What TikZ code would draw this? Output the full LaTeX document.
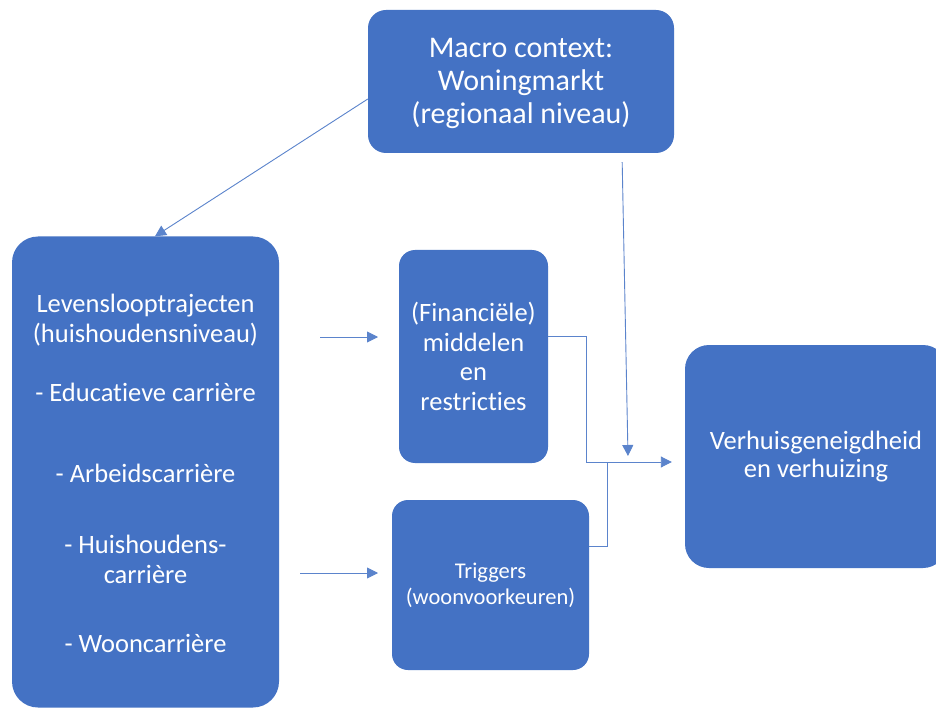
\documentclass[tikz,border=0pt]{standalone}
\usepackage{fontspec}
\setmainfont{Carlito}[Ligatures=NoCommon]
\usetikzlibrary{arrows.meta,positioning,calc}
\definecolor{officeblue}{HTML}{4472C4}
\definecolor{linkblue}{HTML}{5B84CC}

\tikzset{
  box/.style={rectangle,rounded corners=#1,fill=officeblue,draw=none,text=white,align=center,inner sep=0pt},
  box/.default=20pt,
  link/.style={draw=linkblue,line width=0.9pt,-{Triangle[length=11pt,width=11pt]}},
  plainlink/.style={draw=linkblue,line width=0.9pt}
}

\begin{document}
\begin{tikzpicture}[x=1pt,y=-1pt]
  \useasboundingbox[fill=white] (0,0) rectangle (936,708);

  \node[box=18pt,minimum width=306pt,minimum height=143pt,font=\fontsize{30}{33}\selectfont] (macro) at (521,81.5) {\strut Macro context:\\Woningmarkt\\(regionaal niveau)};
  \node[box=26pt,minimum width=267pt,minimum height=471pt,font=\fontsize{26.5}{30}\selectfont] (life) at (145.5,472) {\strut Levenslooptrajecten\\(huishoudensniveau)\\[29pt]- Educatieve carrière\\[51pt]- Arbeidscarrière\\[41pt]- Huishoudens-\\carrière\\[39pt]- Wooncarrière};
  \node[box=16pt,minimum width=149pt,minimum height=213pt,font=\fontsize{26.5}{29.5}\selectfont] (means) at (473.5,356.5) {(Financiële)\\middelen\\en\\restricties};
  \node[box=16pt,minimum width=197pt,minimum height=170pt,font=\fontsize{22.5}{26}\selectfont] (trig) at (490.5,585) {Triggers\\(woonvoorkeuren)};
  \node[box=24pt,minimum width=262pt,minimum height=223pt,font=\fontsize{26.5}{28}\selectfont] (move) at (816,456.5) {Verhuisgeneigdheid\\en verhuizing};

  \coordinate (lifeA) at (320,337);
  \coordinate (meansIn) at (378,337);
  \coordinate (lifeB) at (300,573);
  \coordinate (trigIn) at (378,573);
  \coordinate (join) at (607,462);

  \draw[link] (macro.west |- 0,99) -- (life.north -| 155,0);
  \draw[link] (lifeA) -- (meansIn);
  \draw[link] (lifeB) -- (trigIn);
  \draw[plainlink] (means.east |- 0,336) -| (586,462) -- (join);
  \draw[plainlink] (trig.east |- 0,546) -| (join);
  \draw[link,shorten >=13pt] (join) -- (move.west |- join);
  \draw[link,shorten <=9pt] (macro.south -| 622,0) -- (628,456);
\end{tikzpicture}
\end{document}
